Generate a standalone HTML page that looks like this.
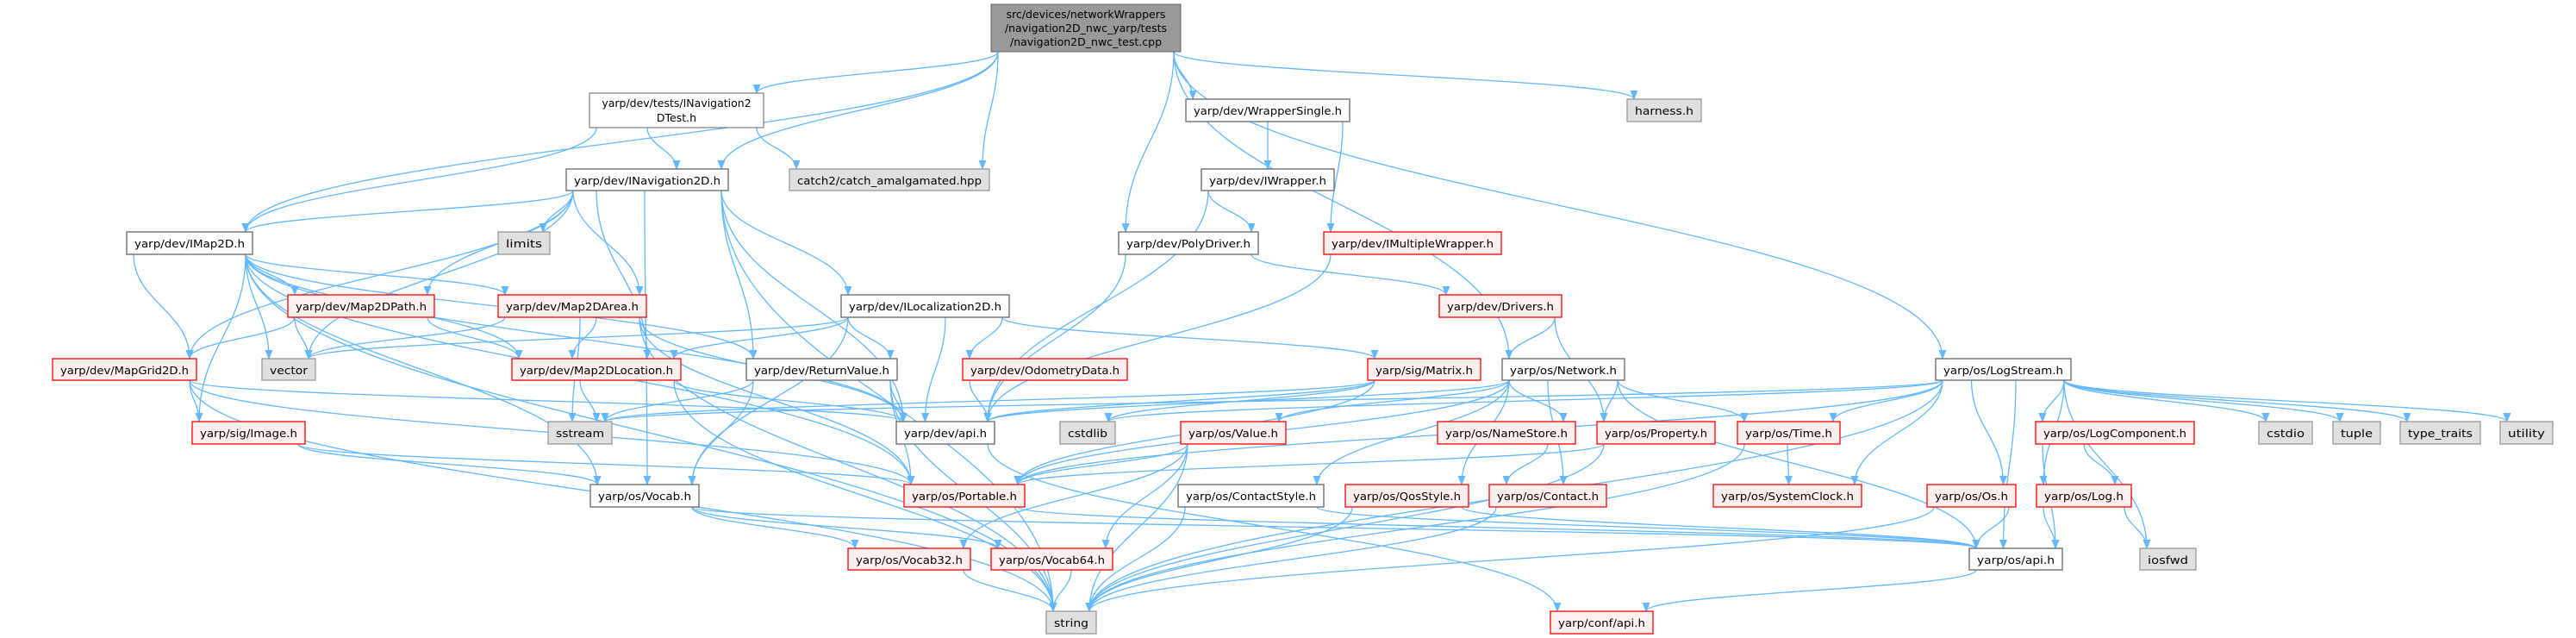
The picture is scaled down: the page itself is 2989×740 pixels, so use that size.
<!DOCTYPE html>
<html><head><meta charset="utf-8"><style>
html,body{margin:0;padding:0;background:#fff;width:2989px;height:740px;overflow:hidden}
svg{display:block}
text{font-family:"DejaVu Sans","Liberation Sans",sans-serif;font-size:12.5px;fill:#000}
</style></head><body>
<svg id="g" width="2989" height="740" viewBox="0 0 2989 740" xmlns="http://www.w3.org/2000/svg">
<defs><marker id="a" markerWidth="11" markerHeight="9" refX="10" refY="4.5" orient="auto" markerUnits="userSpaceOnUse"><path d="M0,0 L11,4.5 L0,9 z" fill="#63b8ff"/></marker></defs>
<g id="edges" fill="none" stroke="#63b8ff" stroke-width="1.3"></g>
<g id="nodes">
<rect x="1150" y="5" width="220" height="55" fill="#999" stroke="#666"/><text x="1260" y="21" text-anchor="middle">src/devices/networkWrappers</text><text x="1260" y="37" text-anchor="middle">/navigation2D_nwc_yarp/tests</text><text x="1260" y="53" text-anchor="middle">/navigation2D_nwc_test.cpp</text>
<rect x="684" y="108" width="202" height="40" fill="#fff" stroke="#666"/><text x="785" y="124" text-anchor="middle">yarp/dev/tests/INavigation2</text><text x="785" y="141" text-anchor="middle">DTest.h</text>
</g>
</svg>
<script>
var N={
ws:[1376,1566,115,141,'w','yarp/dev/WrapperSingle.h'],
harness:[1888,1974,115,141,'g','harness.h'],
nav:[657,845,196,221,'w','yarp/dev/INavigation2D.h'],
catch:[916,1148,196,221,'g','catch2/catch_amalgamated.hpp'],
iw:[1394,1548,196,221,'w','yarp/dev/IWrapper.h'],
imap:[147,293,269,295,'w','yarp/dev/IMap2D.h'],
limits:[578,638,269,295,'g','limits'],
poly:[1298,1460,269,295,'w','yarp/dev/PolyDriver.h'],
imw:[1536,1742,269,295,'r','yarp/dev/IMultipleWrapper.h'],
path:[334,504,342,368,'r','yarp/dev/Map2DPath.h'],
area:[578,750,342,368,'r','yarp/dev/Map2DArea.h'],
iloc:[976,1171,342,368,'w','yarp/dev/ILocalization2D.h'],
drivers:[1670,1812,342,368,'r','yarp/dev/Drivers.h'],
grid:[61,228,416,441,'r','yarp/dev/MapGrid2D.h'],
vector:[304,366,416,441,'g','vector'],
loc:[594,790,416,441,'r','yarp/dev/Map2DLocation.h'],
rv:[866,1041,416,441,'w','yarp/dev/ReturnValue.h'],
odo:[1117,1308,416,441,'r','yarp/dev/OdometryData.h'],
matrix:[1587,1718,416,441,'r','yarp/sig/Matrix.h'],
net:[1743,1885,416,441,'w','yarp/os/Network.h'],
logs:[2246,2403,416,441,'w','yarp/os/LogStream.h'],
image:[223,354,489,515,'r','yarp/sig/Image.h'],
sstream:[636,710,489,515,'g','sstream'],
devapi:[1040,1154,489,515,'w','yarp/dev/api.h'],
cstdlib:[1230,1294,489,515,'g','cstdlib'],
value:[1370,1492,489,515,'r','yarp/os/Value.h'],
namestore:[1668,1828,489,515,'r','yarp/os/NameStore.h'],
property:[1853,1990,489,515,'r','yarp/os/Property.h'],
time:[2016,2135,489,515,'r','yarp/os/Time.h'],
logc:[2362,2546,489,515,'r','yarp/os/LogComponent.h'],
cstdio:[2621,2683,489,515,'g','cstdio'],
tuple:[2707,2762,489,515,'g','tuple'],
tt:[2785,2878,489,515,'g','type_traits'],
utility:[2901,2962,489,515,'g','utility'],
vocab:[685,811,562,588,'w','yarp/os/Vocab.h'],
portable:[1049,1189,562,588,'r','yarp/os/Portable.h'],
cstyle:[1367,1536,562,588,'w','yarp/os/ContactStyle.h'],
qos:[1561,1704,562,588,'r','yarp/os/QosStyle.h'],
contact:[1728,1864,562,588,'r','yarp/os/Contact.h'],
sysclock:[1988,2160,562,588,'r','yarp/os/SystemClock.h'],
os:[2236,2339,562,588,'r','yarp/os/Os.h'],
log:[2363,2473,562,588,'r','yarp/os/Log.h'],
vocab32:[984,1126,636,661,'r','yarp/os/Vocab32.h'],
vocab64:[1150,1291,636,661,'r','yarp/os/Vocab64.h'],
osapi:[2285,2393,636,661,'w','yarp/os/api.h'],
iosfwd:[2483,2548,636,661,'g','iosfwd'],
string:[1214,1272,709,735,'g','string'],
confapi:[1799,1918,709,735,'r','yarp/conf/api.h'],
root:[1150,1370,5,60,'x',''],
nt:[684,886,108,148,'x','']
};
var E={
root:['nt','nav','imap','catch','poly','ws','harness','net','logs'],
nt:['imap','nav','catch'],
ws:['iw','imw'],iw:['poly','devapi'],poly:['drivers','devapi'],imw:['devapi'],
drivers:['net','property'],
nav:['imap','limits','vector','path','area','loc','iloc','rv','devapi','grid','vocab','string'],
imap:['path','area','grid','image','vector','loc','rv','devapi','vocab','string','portable'],
path:['grid','vector','loc'],
area:['loc','vector','devapi','string','portable','sstream'],
iloc:['loc','odo','rv','devapi','vector','matrix','vocab'],
grid:['image','devapi','portable','string'],
loc:['sstream','string','devapi'],
rv:['vocab','devapi','string','portable','sstream'],
odo:['devapi'],matrix:['devapi','portable','cstdlib','sstream'],
net:['namestore','property','contact','cstyle','qos','value','time','portable','osapi','devapi'],
image:['vocab','portable'],devapi:['confapi'],
value:['portable','vocab32','vocab64','string'],namestore:['contact'],property:['portable','string'],
time:['sysclock','string'],logc:['log','osapi'],vocab:['vocab32','vocab64','osapi'],
portable:['osapi'],cstyle:['string','osapi'],qos:['string','osapi'],contact:['string'],
vocab32:['string'],vocab64:['string'],os:['osapi','string'],log:['osapi','iosfwd'],osapi:['confapi'],
logs:['time','sysclock','logc','os','log','cstdio','tuple','tt','utility','iosfwd','osapi','string','cstdlib','sstream','portable']
};
var NS='http://www.w3.org/2000/svg';
var eg=document.getElementById('edges'),ng=document.getElementById('nodes');
function cl(v,a,b){return Math.max(a,Math.min(b,v));}
for(var s in E){var S=N[s];E[s].forEach(function(t,i){var T=N[t];
 var scx=(S[0]+S[1])/2,tcx=(T[0]+T[1])/2,d;
 if(T[2]>S[3]){
  var sx=cl(tcx,S[0]+8,S[1]-8),tx=cl(scx,T[0]+8,T[1]-8);
  var sy=S[3],ty=T[2],dy=ty-sy;
  d='M'+sx+','+sy+' C'+sx+','+(sy+dy*0.45)+' '+tx+','+(ty-dy*0.45)+' '+tx+','+ty;
 }else{
  var tx2=tcx<scx?T[1]:T[0],sx2=tcx<scx?S[0]:S[1],ym=(T[2]+T[3])/2;
  d='M'+sx2+','+((S[2]+S[3])/2)+' C'+((sx2+tx2)/2)+','+((S[2]+S[3])/2)+' '+((sx2+tx2)/2)+','+ym+' '+tx2+','+ym;
 }
 var p=document.createElementNS(NS,'path');p.setAttribute('d',d);p.setAttribute('marker-end','url(#a)');eg.appendChild(p);
});}
for(var k in N){var n=N[k];if(n[4]=='x')continue;
 var r=document.createElementNS(NS,'rect');r.setAttribute('x',n[0]);r.setAttribute('y',n[2]);r.setAttribute('width',n[1]-n[0]);r.setAttribute('height',n[3]-n[2]);
 var f={w:'#fff',g:'#e0e0e0',r:'#fff0f0'}[n[4]],st={w:'#666',g:'#999',r:'#ff0000'}[n[4]];
 r.setAttribute('fill',f);r.setAttribute('stroke',st);r.setAttribute('stroke-width','1.3');ng.appendChild(r);
 var t=document.createElementNS(NS,'text');t.setAttribute('x',(n[0]+n[1])/2);t.setAttribute('y',n[2]+18);t.setAttribute('text-anchor','middle');
 t.setAttribute('textLength',n[1]-n[0]-18);t.setAttribute('lengthAdjust','spacingAndGlyphs');t.textContent=n[5];ng.appendChild(t);
}
</script>
</body></html>
